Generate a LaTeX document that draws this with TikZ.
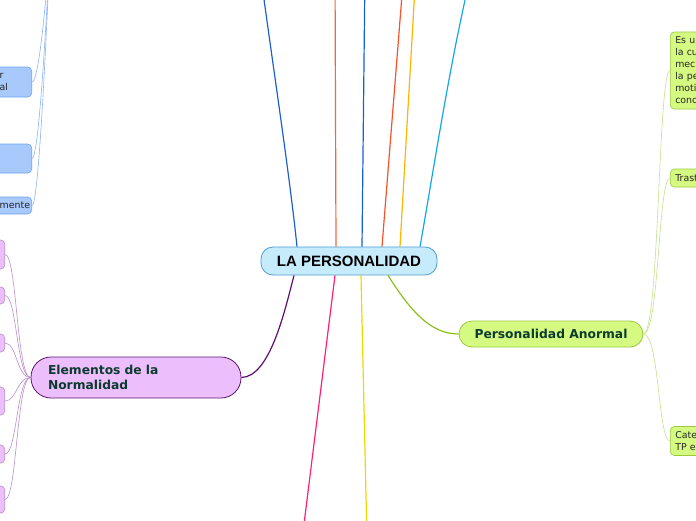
\documentclass[tikz,border=0pt]{standalone}
\usepackage{fontspec}
\setmainfont{DejaVu Sans}
\newfontfamily\arialfont{Liberation Sans}
\usetikzlibrary{positioning}

\definecolor{raizfondo}{HTML}{C6EBFB}
\definecolor{raizborde}{HTML}{4C9DD6}
\definecolor{verdefondo}{HTML}{D5FA82}
\definecolor{verdeborde}{HTML}{9CC83E}
\definecolor{verdelinea}{HTML}{C3E08D}
\definecolor{moradofondo}{HTML}{ECBEFC}
\definecolor{moradoborde}{HTML}{5E1470}
\definecolor{moradolinea}{HTML}{B98FC8}
\definecolor{azulfondo}{HTML}{A8C9FC}
\definecolor{azulborde}{HTML}{6EA3F2}
\definecolor{azullinea}{HTML}{8CB4F5}
\definecolor{textoverde}{HTML}{0C3B2E}
\definecolor{rama1}{HTML}{1E5FD0}
\definecolor{rama2}{HTML}{F26A3A}
\definecolor{rama3}{HTML}{1360D6}
\definecolor{rama4}{HTML}{F4532B}
\definecolor{rama5}{HTML}{FFB400}
\definecolor{rama6}{HTML}{14A6EA}
\definecolor{rama7}{HTML}{5C0F6D}
\definecolor{rama8}{HTML}{FF1F7A}
\definecolor{rama9}{HTML}{F2D600}
\definecolor{rama10}{HTML}{8CBF1E}

\begin{document}
\begin{tikzpicture}[x=1pt, y=-1pt, line width=1.2pt,
  raiz/.style={draw=raizborde, fill=raizfondo, line width=0.8pt, rounded corners=12pt,
    minimum width=176pt, minimum height=28pt, inner sep=0pt,
    font=\arialfont\bfseries\fontsize{15}{18}\selectfont},
  tema/.style={line width=0.8pt, inner sep=0pt, text=textoverde,
    font=\bfseries\fontsize{12.3}{15}\selectfont},
  hoja/.style={line width=0.6pt, rounded corners=4pt, inner xsep=5pt, inner ysep=0pt,
    font=\fontsize{9.4}{12}\selectfont, text=black!85, align=left},
  hojaverde/.style={hoja, draw=verdeborde, fill=verdefondo, anchor=west, text width=60pt},
  hojamorada/.style={hoja, draw=moradolinea, fill=moradofondo, anchor=east, minimum width=40pt},
  hojaazul/.style={hoja, draw=azulborde, fill=azulfondo, anchor=east, inner xsep=4pt, text width=28pt},
  fina/.style={line width=0.6pt}]
  \clip (0,0) rectangle (696,520);
  \useasboundingbox (0,0) rectangle (696,520);

  % nodo central y temas
  \node[raiz] (centro) at (349,261) {LA PERSONALIDAD};
  \node[tema, draw=verdeborde, fill=verdefondo, rounded corners=13pt,
    minimum width=184pt, minimum height=26pt] (anormal) at (551,334) {Personalidad Anormal};
  \node[tema, draw=moradoborde, fill=moradofondo, rounded corners=20pt,
    minimum width=210pt, minimum height=41pt, text width=176pt, align=left,
    inner xsep=17pt] (normal) at (136,377.5) {Elementos de la\\Normalidad};

  % ramas que salen de la imagen
  \coordinate (r1) at (260,-30);
  \coordinate (r2) at (335,-30);
  \coordinate (r3) at (365,-30);
  \coordinate (r4) at (404,-30);
  \coordinate (r5) at (416,-30);
  \coordinate (r6) at (472,-30);
  \coordinate (r8) at (302,540);
  \coordinate (r9) at (367,540);
  \draw[rama1] ([xshift=-52pt]centro.north) .. controls (289,170) and (272,60) .. (r1);
  \draw[rama2] ([xshift=-13pt]centro.north) -- (r2);
  \draw[rama3] ([xshift=13pt]centro.north) -- (r3);
  \draw[rama4] ([xshift=33pt]centro.north) -- (r4);
  \draw[rama5] ([xshift=51pt]centro.north) -- (r5);
  \draw[rama6] ([xshift=71pt]centro.north) .. controls (432,180) and (450,60) .. (r6);
  \draw[rama7] ([xshift=-55pt]centro.south) .. controls (285,310) and (270,377) .. (normal.east);
  \draw[rama8] ([xshift=-14pt]centro.south) -- (r8);
  \draw[rama9] ([xshift=12pt]centro.south) -- (r9);
  \draw[rama10] ([xshift=39pt]centro.south) .. controls (410,310) and (430,334) .. (anormal.west);

  % hojas de la personalidad anormal
  \node[hojaverde, minimum height=77pt] (a1) at (670,70.5) {Es u\\la cu\\mec\\la pe\\moti\\conc};
  \node[hojaverde, minimum height=18pt] (a2) at (670,178) {Trast};
  \node[hojaverde, minimum height=29pt] (a3) at (670,441) {Cate\\TP e};
  \foreach \h in {a1,a2,a3}
    \draw[fina, verdelinea] (anormal.east) .. controls +(16,0) and +(-12,0) .. (\h.west);

  % hojas de los elementos de la normalidad
  \node[hojamorada, minimum height=29pt] (n1) at (5,254.5) {};
  \node[hojamorada, minimum height=17pt] (n2) at (5,295.5) {};
  \node[hojamorada, minimum height=18pt] (n3) at (5,343) {};
  \node[hojamorada, minimum height=28pt] (n4) at (5,401) {};
  \node[hojamorada, minimum height=18pt] (n5) at (5,454) {};
  \node[hojamorada, minimum height=27pt] (n6) at (5,499.5) {};
  \foreach \h in {n1,n2,n3,n4,n5,n6}
    \draw[fina, moradolinea] (normal.west) .. controls +(-14,0) and +(12,0) .. (\h.east);

  % hojas azules de arriba
  \coordinate (padre) at (52,-90);
  \node[hojaazul, minimum height=30pt] (b1) at (32,82) {r\\al};
  \node[hojaazul, minimum height=29pt] (b2) at (32,158.5) {};
  \node[hojaazul, minimum height=17pt, align=right] (b3) at (32,205.5) {mente};
  \foreach \h in {b1,b2,b3}
    \draw[fina, azullinea] (\h.east) .. controls +(8,0) and +(-3,60) .. (padre);
\end{tikzpicture}
\end{document}
